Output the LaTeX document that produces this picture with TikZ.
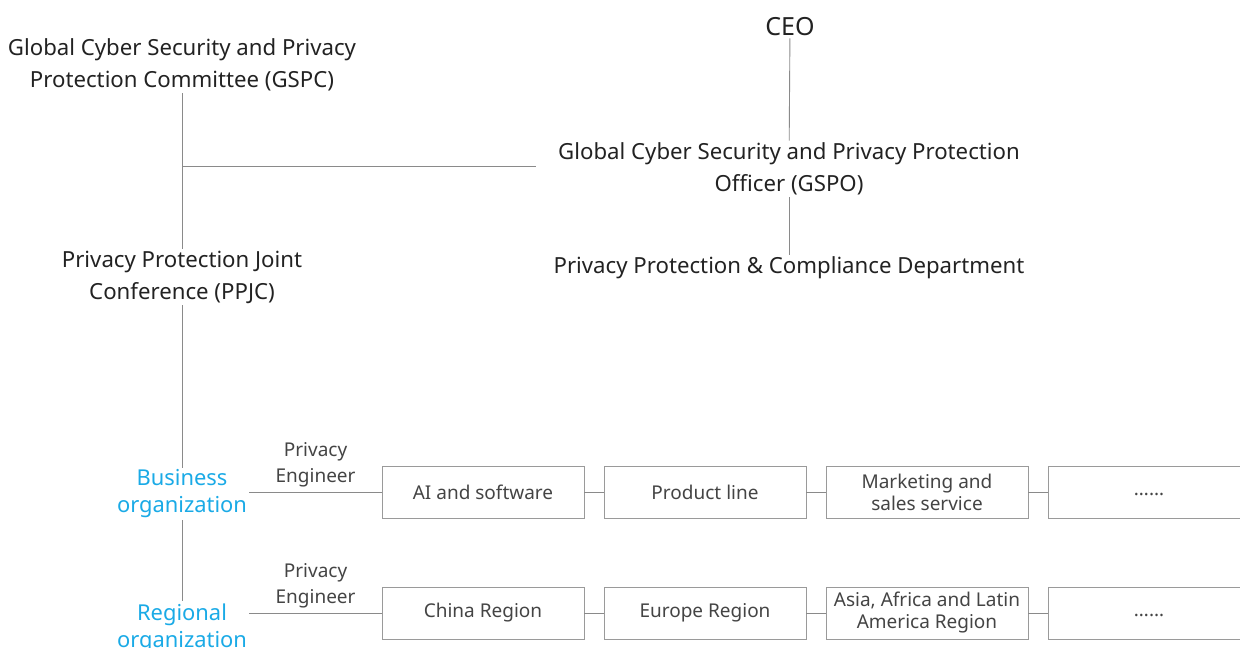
\documentclass[tikz,border=0pt]{standalone}
\usepackage{fontspec}
\setmainfont{Noto Sans}
\usetikzlibrary{positioning}
\definecolor{linegray}{HTML}{8A8A8A}
\definecolor{boxgray}{HTML}{9A9A9A}
\definecolor{txtdark}{HTML}{222222}
\definecolor{txtgray}{HTML}{444444}
\definecolor{orgblue}{HTML}{1AAAE6}
\newcommand{\moredots}{\raisebox{-3pt}[0pt][0pt]{……}}
\tikzset{
  title/.style={align=center,text=txtdark,inner xsep=0pt,inner ysep=2pt,
    font=\fontsize{22.2}{32}\selectfont},
  orgname/.style={align=center,text=orgblue,inner xsep=2pt,inner ysep=2pt,
    font=\fontsize{21.9}{27}\selectfont},
  unitbox/.style={draw=boxgray,line width=1pt,minimum width=202pt,
    minimum height=52pt,inner sep=0pt,outer sep=0pt,align=center,text=txtgray,
    font=\fontsize{19}{22}\selectfont},
  engname/.style={align=center,text=txtgray,inner sep=0pt,
    font=\fontsize{19}{26}\selectfont},
  conn/.style={draw=linegray,line width=0.9pt}
}

\begin{document}
\begin{tikzpicture}[x=1pt,y=-1pt,node distance=20pt]
\useasboundingbox (0,0) rectangle (1240,648);
% top of the chart
\node[title,font=\fontsize{25}{30}\selectfont] (CEO) at (790,27) {CEO};
\node[title] (GSPC) at (182,65) {Global Cyber Security and Privacy\\Protection Committee (GSPC)};
\node[title] (GSPO) at (789,169) {Global Cyber Security and Privacy Protection\\Officer (GSPO)};
\node[title] (PPCD) at (789,268) {Privacy Protection \& Compliance Department};
\node[title] (PPJC) at (182,277) {Privacy Protection Joint\\Conference (PPJC)};
\coordinate (J) at (182,166);
\draw[conn] (CEO) -- (GSPO);
\draw[conn] (GSPO) -- (PPCD);
\draw[conn] (GSPC) -- (PPJC);
\draw[conn] (J) -- ([xshift=-22pt]GSPO.west |- J);
% business and regional rows
\node[orgname] (BO) at (182,494) {Business\\organization};
\node[orgname] (RO) at (182,628) {Regional\\organization};
\node[unitbox] (B1) at (483,492) {AI and software};
\node[unitbox,right=of B1] (B2) {Product line};
\node[unitbox,right=of B2] (B3) {Marketing and\\sales service};
\node[unitbox,right=of B3] (B4) {\moredots};
\node[unitbox] (R1) at (483,613) {China Region};
\node[unitbox,right=of R1] (R2) {Europe Region};
\node[unitbox,right=of R2] (R3) {Asia, Africa and Latin\\America Region};
\node[unitbox,right=of R3] (R4) {\moredots};
\draw[conn] (PPJC) -- (BO);
\draw[conn] (BO) -- (RO);
\draw[conn] (BO.east |- B1.west) -- node[engname,above=4pt] {Privacy\\Engineer} (B1.west);
\draw[conn] (RO.east |- R1.west) -- node[engname,above=4pt] {Privacy\\Engineer} (R1.west);
\foreach \a/\b in {B1/B2,B2/B3,B3/B4,R1/R2,R2/R3,R3/R4}
  \draw[conn] (\a) -- (\b);
\end{tikzpicture}
\end{document}
